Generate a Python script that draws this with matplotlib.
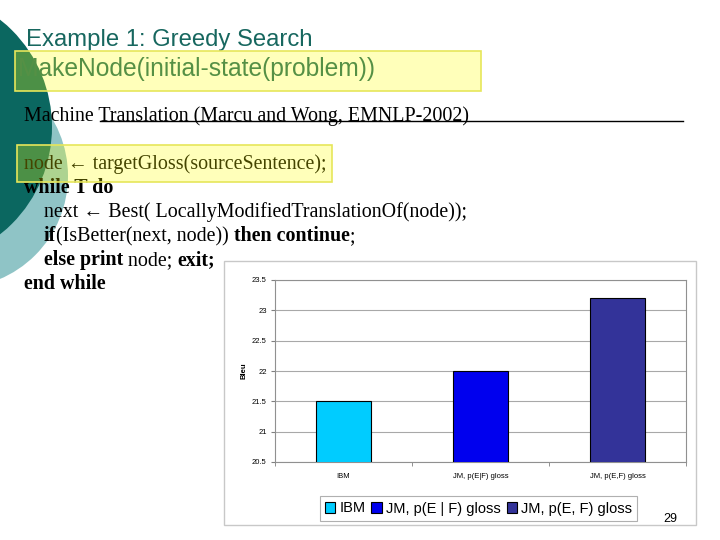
import matplotlib
matplotlib.use("Agg")
import matplotlib.pyplot as plt
from matplotlib.patches import Circle, Rectangle

categories = ["IBM", "JM, p(E|F) gloss", "JM, p(E,F) gloss"]
legend_labels = ["IBM", "JM, p(E | F) gloss", "JM, p(E, F) gloss"]
bleu = [21.5, 22.0, 23.2]
bar_colors = ["#00ccff", "#0000ee", "#333399"]
yticks = [20.5, 21, 21.5, 22, 22.5, 23, 23.5]
ytick_labels = ["20.5", "21", "21.5", "22", "22.5", "23", "23.5"]

fig = plt.figure(figsize=(7.2, 5.4), dpi=100)
ax0 = fig.add_axes([0, 0, 1, 1])
ax0.set_xlim(0, 720)
ax0.set_ylim(540, 0)
ax0.axis("off")

TEAL = "#17675f"
# decorative circles
ax0.add_patch(Circle((-44, 176), 112, color="#8fc4c6", zorder=1, lw=0))
ax0.add_patch(Circle((-85, 127), 137, color="#0b6760", zorder=2, lw=0))

SANS = ["Liberation Sans", "DejaVu Sans"]
SERIF = ["Liberation Serif", "DejaVu Serif"]
FS = 14.4

ax0.text(26, 46, "Example 1: Greedy Search", family=SANS, fontsize=17.2,
         color=TEAL, va="baseline", ha="left", zorder=5)
ax0.text(18, 76, "MakeNode(initial-state(problem))", family=SANS, fontsize=17.7,
         color=TEAL, va="baseline", ha="left", zorder=5)
ax0.add_patch(Rectangle((15, 51), 466, 40, facecolor=(1, 1, 0, 0.27),
                        edgecolor="#e6e65a", lw=1.2, zorder=6))

ax0.text(24, 121, "Machine Translation (Marcu and Wong, EMNLP-2002)", family=SERIF,
         fontsize=FS, color="black", va="baseline", ha="left", zorder=5)
ax0.plot([100, 683], [120.5, 120.5], color="black", lw=1, zorder=5)

def line(x, y, parts):
    prev = None
    for s, bold in parts:
        w = "bold" if bold else "normal"
        if prev is None:
            prev = ax0.text(x, y, s, family=SERIF, fontsize=FS, weight=w,
                            va="baseline", ha="left", zorder=5)
        else:
            prev = ax0.annotate(s, xy=(1, 0), xycoords=prev, family=SERIF,
                                fontsize=FS, weight=w, va="bottom", ha="left",
                                zorder=5)

line(24, 169, [("node \u2190 targetGloss(sourceSentence);", False)])
ax0.add_patch(Rectangle((17, 145), 315, 37, facecolor=(1, 1, 0, 0.27),
                        edgecolor="#e6e65a", lw=1.2, zorder=6))
line(24, 193, [("while T do", True)])
line(44, 217, [("next \u2190 Best( LocallyModifiedTranslationOf(node));", False)])
line(44, 241, [("if", True), ("(IsBetter(next, node)) ", False),
               ("then continue", True), (";", False)])
line(44, 265, [("else print", True), (" node; ", False), ("exit;", True)])
line(24, 289, [("end while", True)])

# chart frame
ax0.add_patch(Rectangle((224, 261), 472, 264, facecolor="white",
                        edgecolor="#c8c8c8", lw=1, zorder=7))

ax = fig.add_axes([275 / 720, (540 - 462) / 540, 411 / 720, 182 / 540], zorder=10)
ax.set_facecolor("white")
x = list(range(len(categories)))
bars = ax.bar(x, bleu, width=0.4, color=bar_colors, edgecolor="black",
              linewidth=0.8, zorder=3)
ax.set_ylim(20.5, 23.5)
ax.set_xlim(-0.5, 2.5)
ax.set_yticks(yticks)
ax.set_yticklabels(ytick_labels, fontsize=5.5, family=SANS)
ax.set_xticks(x)
ax.set_xticklabels(categories, fontsize=5.5, family=SANS)
ax.set_xticks([-0.5, 0.5, 1.5, 2.5], minor=True)
ax.tick_params(axis="x", which="major", length=0, pad=8)
ax.tick_params(axis="x", which="minor", length=3, color="#808080")
ax.tick_params(axis="y", length=3, color="#808080", pad=3)
ax.grid(axis="y", color="#a8a8a8", lw=0.8, zorder=0)
for sp in ax.spines.values():
    sp.set_color("#909090")
    sp.set_linewidth(0.8)
ax.set_ylabel("Bleu", fontsize=5.5, weight="bold", family=SANS, labelpad=3)

leg = ax.legend(bars, legend_labels, loc="center", ncol=3,
                bbox_to_anchor=(478.5 / 720, 31.5 / 540),
                bbox_transform=fig.transFigure,
                prop={"family": SANS, "size": 10.5},
                handlelength=0.7, handleheight=0.7, handletextpad=0.3,
                columnspacing=0.4, borderpad=0.35, fancybox=False,
                edgecolor="#b0b0b0", framealpha=1)
leg.get_frame().set_linewidth(0.8)

ax0.text(670, 522, "29", family=SANS, fontsize=9, ha="center", va="baseline",
         zorder=8)

fig.savefig("out.png", dpi=100)
